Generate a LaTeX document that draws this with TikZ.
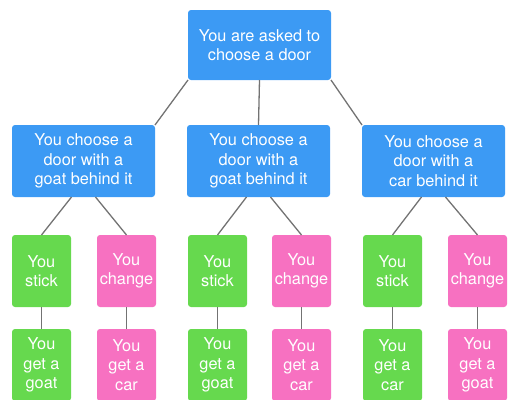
\documentclass[tikz,border=0pt]{standalone}
\usepackage{fontspec}
\setmainfont{TeX Gyre Heros}
\usetikzlibrary{positioning,calc}
\definecolor{doorblue}{HTML}{3C9AF4}
\definecolor{stickgreen}{HTML}{66D94E}
\definecolor{changepink}{HTML}{F771C1}
\newcommand{\boxtext}{\fontsize{16.3}{19.5}\selectfont}

\begin{document}
\begin{tikzpicture}
[x=1pt,y=-1pt,
edge/.style={black!55,line width=1.3pt},
block/.style={rounded corners=3pt,text=white,align=center,font=\boxtext,
  inner sep=0pt,outer sep=0pt,minimum height=72pt},
wide/.style={block,fill=doorblue,minimum width=143pt},
stickbox/.style={block,fill=stickgreen,minimum width=59pt},
changebox/.style={block,fill=changepink,minimum width=59pt}]
\clip (0,0) rectangle (508,399);
%%
\node[wide,minimum height=70pt] (ask) at (259.5,45) {You are asked to\\choose a door};
%%
\node[wide] (goat1) at (83.5,161) {You choose a\\door with a\\goat behind it};
\node[wide] (goat2) at (258.5,161) {You choose a\\door with a\\goat behind it};
\node[wide] (car) at (433.5,161) {You choose a\\door with a\\car behind it};
%%
\node[stickbox] (stick1) at (41.5,271) {You\\stick};
\node[changebox] (change1) at (126.5,271) {You\\change};
\node[stickbox] (stick2) at (217.5,271) {You\\stick};
\node[changebox] (change2) at (301.5,271) {You\\change};
\node[stickbox] (stick3) at (392.5,271) {You\\stick};
\node[changebox] (change3) at (477.5,271) {You\\change};
%%
\node[stickbox,below=22pt of stick1] (res1) {You\\get a\\goat};
\node[changebox,below=22pt of change1] (res2) {You\\get a\\car};
\node[stickbox,below=22pt of stick2] (res3) {You\\get a\\goat};
\node[changebox,below=22pt of change2] (res4) {You\\get a\\car};
\node[stickbox,below=22pt of stick3] (res5) {You\\get a\\car};
\node[changebox,below=22pt of change3] (res6) {You\\get a\\goat};
%%
\draw[edge] (ask.south west) -- (goat1.north east);
\draw[edge] (ask.south) -- (goat2.north);
\draw[edge] (ask.south east) -- (car.north west);
\foreach \g/\s/\c in {goat1/stick1/change1,goat2/stick2/change2,car/stick3/change3}{
  \draw[edge] ($(\g.south)+(-12,0)$) -- (\s.north);
  \draw[edge] ($(\g.south)+(12,0)$) -- (\c.north);
}
\foreach \s/\r in {stick1/res1,change1/res2,stick2/res3,change2/res4,stick3/res5,change3/res6}
  \draw[edge] (\s) -- (\r);
\end{tikzpicture}
\end{document}
